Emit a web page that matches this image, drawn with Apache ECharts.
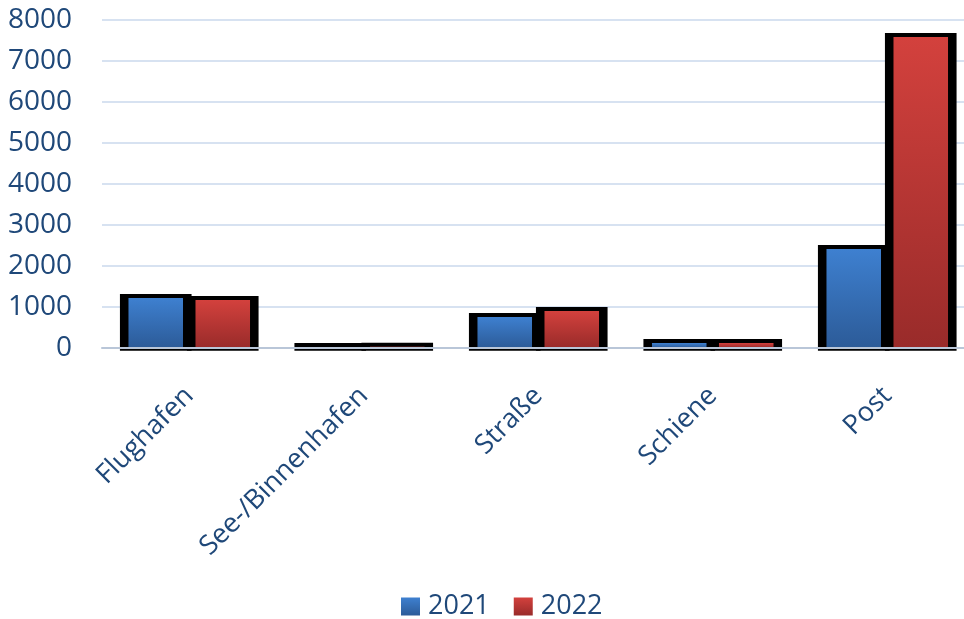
<!DOCTYPE html>
<html>
<head>
<meta charset="utf-8">
<script src="https://cdn.jsdelivr.net/npm/echarts@6/dist/echarts.min.js"></script>
<style>
html,body{margin:0;padding:0;background:#fff;}
#chart{width:964px;height:619px;}
</style>
</head>
<body>
<div id="chart"></div>
<script>
const categories = ['Flughafen', 'See-/Binnenhafen', 'Straße', 'Schiene', 'Post'];
const seriesNames = ['2021', '2022'];
const values2021 = [1215, 20, 750, 115, 2405];
const values2022 = [1165, 25, 895, 115, 7580];
const yTicks = { min: 0, max: 8000, interval: 1000 };

const textColor = '#1f4879';
const fontFam = '"Open Sans", "Noto Sans", sans-serif';

function grad(top, bottom) {
  return new echarts.graphic.LinearGradient(0, 0, 0, 1, [
    { offset: 0, color: top },
    { offset: 1, color: bottom }
  ]);
}
const fills = [grad('#3e80d0', '#2c5b98'), grad('#d3413d', '#992b2a')];

function makeRender(sIdx) {
  return function (params, api) {
    const idx = api.value(0);
    const val = api.value(1);
    const top = api.coord([idx, val]);
    const base = api.coord([idx, 0]);
    const band = api.size([1, 0])[0];
    const W = band * 0.3125;
    const off = band * 0.192 * (sIdx === 0 ? -1 : 1);
    const cx = top[0] + off;
    const side = band * 0.049;
    const h = Math.max(base[1] - top[1], 0);
    return {
      type: 'group',
      children: [
        { type: 'rect', shape: { x: cx - W / 2 - side, y: top[1] - 4, width: W + 2 * side, height: h + 7 }, style: { fill: '#000' } },
        { type: 'rect', shape: { x: cx - W / 2, y: top[1], width: W, height: h }, style: { fill: fills[sIdx] } }
      ]
    };
  };
}

const chart = echarts.init(document.getElementById('chart'));
chart.setOption({
  animation: false,
  grid: { left: 102, top: 19.7, right: -10.5, height: 328, containLabel: false, outerBoundsMode: 'none' },
  legend: {
    data: seriesNames,
    left: 401,
    top: 593,
    padding: 0,
    icon: 'rect',
    itemWidth: 19,
    itemHeight: 18,
    itemGap: 24,
    textStyle: { color: textColor, fontSize: 27, fontFamily: fontFam, padding: [0, 0, 0, 3] }
  },
  xAxis: {
    type: 'category',
    data: categories,
    z: 5,
    axisLine: { lineStyle: { color: '#b9c6d8', width: 2 } },
    axisTick: { show: false },
    axisLabel: { rotate: 45, margin: 44, color: textColor, fontSize: 27, fontFamily: fontFam, interval: 0 }
  },
  yAxis: {
    type: 'value',
    min: yTicks.min, max: yTicks.max, interval: yTicks.interval,
    axisLine: { show: false },
    axisTick: { show: false },
    splitLine: { lineStyle: { color: '#d7e2f1', width: 2 } },
    axisLabel: { margin: 30, color: textColor, fontSize: 28, fontFamily: fontFam, formatter: v => String(v) }
  },
  series: [
    { name: seriesNames[0], type: 'custom', itemStyle: { color: fills[0] }, renderItem: makeRender(0),
      encode: { x: 0, y: 1 }, data: values2021.map((v, i) => [i, v]) },
    { name: seriesNames[1], type: 'custom', itemStyle: { color: fills[1] }, renderItem: makeRender(1),
      encode: { x: 0, y: 1 }, data: values2022.map((v, i) => [i, v]) }
  ]
});
</script>
</body>
</html>
